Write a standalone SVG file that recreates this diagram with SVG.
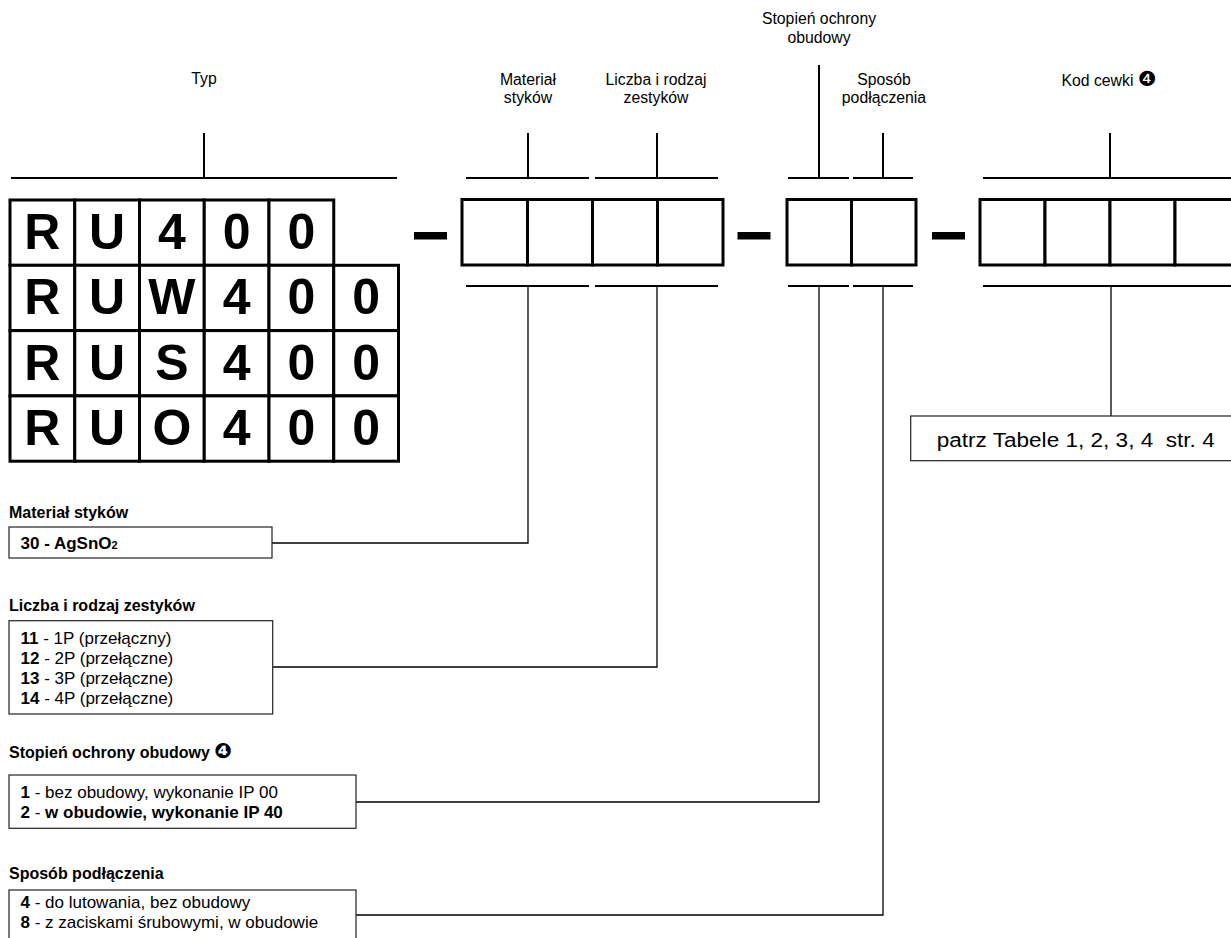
<svg xmlns="http://www.w3.org/2000/svg" width="1231" height="938" viewBox="0 0 1231 938">
<style>
text{font-family:"Liberation Sans",Arial,sans-serif;fill:#000}
.lbl{font-size:15.8px;text-anchor:middle}
.big{font-size:50px;font-weight:bold;text-anchor:middle}
.hd{font-size:16px;font-weight:bold}
.li{font-size:17px}
.b{font-weight:bold}
.cell{fill:#fff;stroke:#000;stroke-width:3}
.br{stroke:#000;stroke-width:2;fill:none}
.con{stroke:#000;stroke-width:1.3;fill:none}
.lb{fill:#fff;stroke:#222;stroke-width:1.2}
.dash{fill:#000}
.dg{font-family:"DejaVu Sans",sans-serif;font-size:21px}
</style>
<rect width="1231" height="938" fill="#fff"/>

<g id="connectors">
  <path class="con" d="M272 543 H528 V286"/>
  <path class="con" d="M273 667 H657 V286"/>
  <path class="con" d="M356 802 H819 V286"/>
  <path class="con" d="M356 915 H883 V286"/>
  <path class="con" d="M1111 286 V416"/>
</g>

<g id="label-typ">
  <text class="lbl" x="204" y="84">Typ</text>
  <path class="br" d="M204 133 V178 M11 178 H397"/>
</g>
<g id="label-material">
  <text class="lbl" x="528" y="84.5">Materiał</text>
  <text class="lbl" x="528" y="103">styków</text>
  <path class="br" d="M528 133 V178 M466 178 H589"/>
  <path class="br" d="M466 286 H589"/>
</g>
<g id="label-liczba">
  <text class="lbl" x="656" y="84.5">Liczba i rodzaj</text>
  <text class="lbl" x="656" y="103">zestyków</text>
  <path class="br" d="M657 133 V178 M595 178 H718"/>
  <path class="br" d="M595 286 H718"/>
</g>
<g id="label-stopien">
  <text class="lbl" x="819" y="24">Stopień ochrony</text>
  <text class="lbl" x="819" y="42.5">obudowy</text>
  <path class="br" d="M819 65 V178 M788 178 H849"/>
  <path class="br" d="M788 286 H849"/>
</g>
<g id="label-sposob">
  <text class="lbl" x="884" y="84.5">Sposób</text>
  <text class="lbl" x="884" y="103">podłączenia</text>
  <path class="br" d="M883 133 V178 M853 178 H913"/>
  <path class="br" d="M853 286 H913"/>
</g>
<g id="label-kod">
  <text class="lbl" x="1109" y="85.5">Kod cewki <tspan class="dg">❹</tspan></text>
  <path class="br" d="M1110 133 V178 M983 178 H1231"/>
  <path class="br" d="M983 286 H1231"/>
</g>

<g id="type-grid">
  <rect class="cell" x="10" y="200" width="64.75" height="65.3"/>
  <rect class="cell" x="74.75" y="200" width="64.75" height="65.3"/>
  <rect class="cell" x="139.5" y="200" width="64.75" height="65.3"/>
  <rect class="cell" x="204.25" y="200" width="64.75" height="65.3"/>
  <rect class="cell" x="269" y="200" width="64.75" height="65.3"/>

  <rect class="cell" x="10" y="265.3" width="64.75" height="65.3"/>
  <rect class="cell" x="74.75" y="265.3" width="64.75" height="65.3"/>
  <rect class="cell" x="139.5" y="265.3" width="64.75" height="65.3"/>
  <rect class="cell" x="204.25" y="265.3" width="64.75" height="65.3"/>
  <rect class="cell" x="269" y="265.3" width="64.75" height="65.3"/>
  <rect class="cell" x="333.75" y="265.3" width="64.75" height="65.3"/>

  <rect class="cell" x="10" y="330.6" width="64.75" height="65.3"/>
  <rect class="cell" x="74.75" y="330.6" width="64.75" height="65.3"/>
  <rect class="cell" x="139.5" y="330.6" width="64.75" height="65.3"/>
  <rect class="cell" x="204.25" y="330.6" width="64.75" height="65.3"/>
  <rect class="cell" x="269" y="330.6" width="64.75" height="65.3"/>
  <rect class="cell" x="333.75" y="330.6" width="64.75" height="65.3"/>

  <rect class="cell" x="10" y="395.9" width="64.75" height="65.3"/>
  <rect class="cell" x="74.75" y="395.9" width="64.75" height="65.3"/>
  <rect class="cell" x="139.5" y="395.9" width="64.75" height="65.3"/>
  <rect class="cell" x="204.25" y="395.9" width="64.75" height="65.3"/>
  <rect class="cell" x="269" y="395.9" width="64.75" height="65.3"/>
  <rect class="cell" x="333.75" y="395.9" width="64.75" height="65.3"/>

  <text class="big" x="42.4" y="249">R</text>
  <text class="big" x="107.1" y="249">U</text>
  <text class="big" x="171.9" y="249">4</text>
  <text class="big" x="236.6" y="249">0</text>
  <text class="big" x="301.4" y="249">0</text>

  <text class="big" x="42.4" y="314.3">R</text>
  <text class="big" x="107.1" y="314.3">U</text>
  <text class="big" x="171.9" y="314.3">W</text>
  <text class="big" x="236.6" y="314.3">4</text>
  <text class="big" x="301.4" y="314.3">0</text>
  <text class="big" x="366.1" y="314.3">0</text>

  <text class="big" x="42.4" y="379.6">R</text>
  <text class="big" x="107.1" y="379.6">U</text>
  <text class="big" x="171.9" y="379.6">S</text>
  <text class="big" x="236.6" y="379.6">4</text>
  <text class="big" x="301.4" y="379.6">0</text>
  <text class="big" x="366.1" y="379.6">0</text>

  <text class="big" x="42.4" y="444.9">R</text>
  <text class="big" x="107.1" y="444.9">U</text>
  <text class="big" x="171.9" y="444.9">O</text>
  <text class="big" x="236.6" y="444.9">4</text>
  <text class="big" x="301.4" y="444.9">0</text>
  <text class="big" x="366.1" y="444.9">0</text>
</g>

<g id="dashes">
  <rect class="dash" x="414" y="232" width="33" height="7.5"/>
  <rect class="dash" x="737.5" y="232" width="33" height="7.5"/>
  <rect class="dash" x="932" y="232" width="33" height="7.5"/>
</g>

<g id="code-boxes-1">
  <rect class="cell" x="462" y="199.5" width="65.5" height="65.5"/>
  <rect class="cell" x="527.5" y="199.5" width="65" height="65.5"/>
  <rect class="cell" x="592.5" y="199.5" width="65" height="65.5"/>
  <rect class="cell" x="657.5" y="199.5" width="65.5" height="65.5"/>
</g>
<g id="code-boxes-2">
  <rect class="cell" x="787" y="199.5" width="64.5" height="65.5"/>
  <rect class="cell" x="851.5" y="199.5" width="64.5" height="65.5"/>
</g>
<g id="code-boxes-3">
  <rect class="cell" x="980" y="199.5" width="65" height="65.5"/>
  <rect class="cell" x="1045" y="199.5" width="65" height="65.5"/>
  <rect class="cell" x="1110" y="199.5" width="65" height="65.5"/>
  <rect class="cell" x="1175" y="199.5" width="65" height="65.5"/>
</g>

<g id="coil-table-box">
  <rect class="lb" x="910.7" y="416" width="330" height="44.7"/>
  <text x="936.7" y="446.5" font-size="20" xml:space="preserve" textLength="278" lengthAdjust="spacingAndGlyphs">patrz Tabele 1, 2, 3, 4  str. 4</text>
</g>

<g id="legend-material">
  <text class="hd" x="9" y="517.5">Materiał styków</text>
  <rect class="lb" x="9" y="527" width="263" height="31"/>
  <text class="li b" x="20.5" y="549">30 - AgSnO<tspan font-size="11">2</tspan></text>
</g>

<g id="legend-liczba">
  <text class="hd" x="9" y="610.5">Liczba i rodzaj zestyków</text>
  <rect class="lb" x="9" y="620.7" width="263.7" height="93.3"/>
  <text class="li" x="20.5" y="643.5"><tspan class="b">11</tspan> - 1P (przełączny)</text>
  <text class="li" x="20.5" y="663.5"><tspan class="b">12</tspan> - 2P (przełączne)</text>
  <text class="li" x="20.5" y="683.5"><tspan class="b">13</tspan> - 3P (przełączne)</text>
  <text class="li" x="20.5" y="703.5"><tspan class="b">14</tspan> - 4P (przełączne)</text>
</g>

<g id="legend-stopien">
  <text class="hd" x="9" y="757.5">Stopień ochrony obudowy <tspan class="dg" font-size="20">❹</tspan></text>
  <rect class="lb" x="9" y="775" width="347" height="53.3"/>
  <text class="li" x="20.5" y="798"><tspan class="b">1</tspan> - bez obudowy, wykonanie IP 00</text>
  <text class="li" x="20.5" y="818"><tspan class="b">2</tspan> - <tspan class="b">w obudowie, wykonanie IP 40</tspan></text>
</g>

<g id="legend-sposob">
  <text class="hd" x="9" y="878.5">Sposób podłączenia</text>
  <rect class="lb" x="9" y="890" width="347" height="60"/>
  <text class="li" x="20.5" y="908"><tspan class="b">4</tspan> - do lutowania, bez obudowy</text>
  <text class="li" x="20.5" y="928"><tspan class="b">8</tspan> - z zaciskami śrubowymi, w obudowie</text>
</g>
</svg>
